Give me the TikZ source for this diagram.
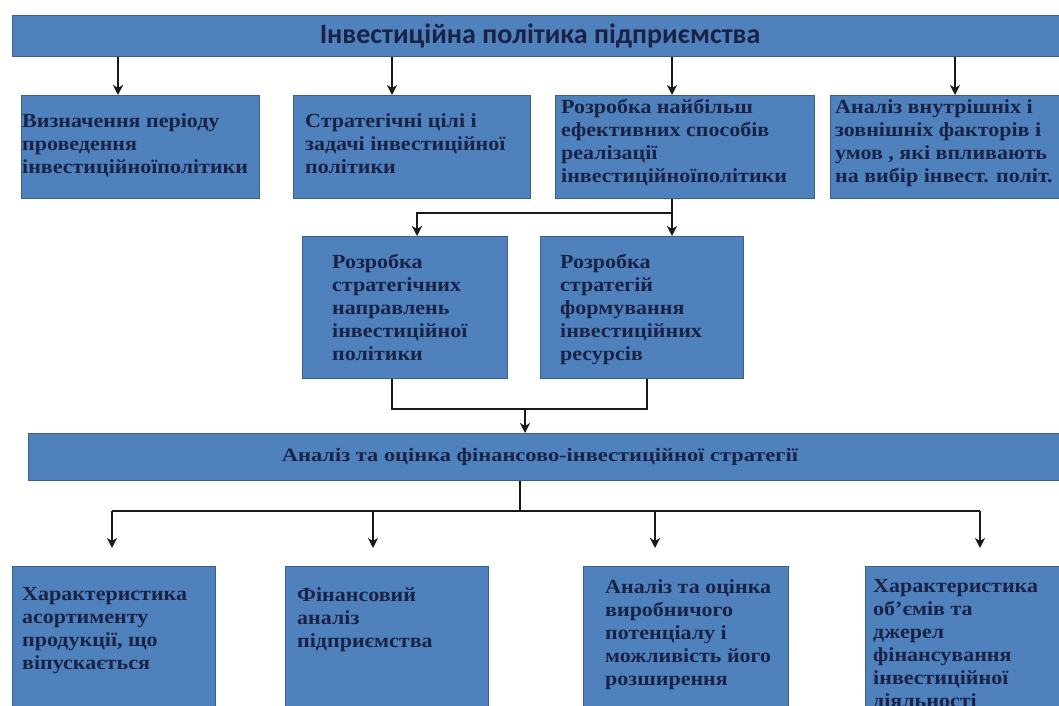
\documentclass[tikz,border=0pt]{standalone}
\usepackage{fontspec}
\usetikzlibrary{arrows.meta}
\newfontfamily\boxfont{Liberation Serif}[FakeStretch=1.1]
\newfontfamily\barfont{Liberation Serif}[FakeStretch=1.18]
\newfontfamily\titlefont{Carlito}
\definecolor{boxblue}{HTML}{4F81BD}
\definecolor{boxline}{HTML}{3A5F8D}
\definecolor{textnavy}{HTML}{1A2346}
\begin{document}
\begin{tikzpicture}[
    x=1pt, y=-1pt,
    blockbox/.style={rectangle, draw=boxline, fill=boxblue, line width=1pt, anchor=north west, inner sep=0pt},
    txt/.style={anchor=north west, align=left, inner sep=0pt, text=textnavy,
        font=\boxfont\bfseries\fontsize{20}{23}\selectfont},
    line/.style={line width=1.8pt, black!90},
    arrow/.style={-{Stealth[length=10pt, width=10pt, inset=3pt]}, line width=1.8pt, black!90}
]
    \useasboundingbox (0,0) rectangle (1059,706);
    \clip (0,0) rectangle (1059,706);

    % Bars
    \node[blockbox, minimum width=1060pt, minimum height=41pt] (bar0) at (12,15) {};
    \node[blockbox, minimum width=1040pt, minimum height=47pt] (bar1) at (28,433) {};
    \node[text=textnavy, font=\titlefont\bfseries\fontsize{28}{32}\selectfont] (t0) at (540,36) {Інвестиційна політика підприємства};
    \node[text=textnavy, font=\barfont\bfseries\fontsize{19}{22}\selectfont] (tbar) at (540,457) {Аналіз та оцінка фінансово-інвестиційної стратегії};

    % Boxes
    \node[blockbox, minimum width=238pt, minimum height=103pt] (b1) at (21,95) {};
    \node[blockbox, minimum width=237pt, minimum height=103pt] (b2) at (293,95) {};
    \node[blockbox, minimum width=259pt, minimum height=103pt] (b3) at (555,95) {};
    \node[blockbox, minimum width=240pt, minimum height=103pt] (b4) at (830,95) {};
    \node[blockbox, minimum width=205pt, minimum height=142pt] (b5) at (302,236) {};
    \node[blockbox, minimum width=203pt, minimum height=142pt] (b6) at (540,236) {};
    \node[blockbox, minimum width=203pt, minimum height=160pt] (b7) at (12,566) {};
    \node[blockbox, minimum width=203pt, minimum height=160pt] (b8) at (285,566) {};
    \node[blockbox, minimum width=205pt, minimum height=160pt] (b9) at (583,566) {};
    \node[blockbox, minimum width=220pt, minimum height=160pt] (b10) at (865,566) {};

    % Texts
    \node[txt] (t1) at (22,113) {Визначення періоду\\проведення\\інвестиційноїполітики};
    \node[txt] (t2) at (305,113) {Стратегічні цілі і\\задачі інвестиційної\\політики};
    \node[txt] (t3) at (561,99) {Розробка найбільш\\ефективних способів\\реалізації\\інвестиційноїполітики};
    \node[txt] (t4) at (835,99) {Аналіз внутрішніх і\\зовнішніх факторів і\\умов , які впливають\\на вибір інвест. політ.};
    \node[txt] (t5) at (332,254) {Розробка\\стратегічних\\направлень\\інвестиційної\\політики};
    \node[txt] (t6) at (560,254) {Розробка\\стратегій\\формування\\інвестиційних\\ресурсів};
    \node[txt] (t7) at (22,587) {Характеристика\\асортименту\\продукції, що\\віпускається};
    \node[txt] (t8) at (297,587) {Фінансовий\\аналіз\\підприємства};
    \node[txt] (t9) at (605,579) {Аналіз та оцінка\\виробничого\\потенціалу і\\можливість його\\розширення};
    \node[txt] (t10) at (873,579) {Характеристика\\об’ємів та\\джерел\\фінансування\\інвестиційної\\діяльності};

    % Branch points
    \coordinate (a1) at (118,0);
    \coordinate (a2) at (392,0);
    \coordinate (a3) at (672,0);
    \coordinate (a4) at (955,0);
    \coordinate (s1) at (672,213);
    \coordinate (s2) at (417,213);
    \coordinate (j1) at (392,409);
    \coordinate (j2) at (647,409);
    \coordinate (j3) at (525,409);
    \coordinate (k0) at (520,511);
    \coordinate (k1) at (112,511);
    \coordinate (k2) at (373,511);
    \coordinate (k3) at (655,511);
    \coordinate (k4) at (980,511);

    % Edges
    \draw[arrow] (bar0.south -| a1) -- (b1.north -| a1);
    \draw[arrow] (bar0.south -| a2) -- (b2.north -| a2);
    \draw[arrow] (bar0.south -| a3) -- (b3.north -| a3);
    \draw[arrow] (bar0.south -| a4) -- (b4.north -| a4);
    \draw[arrow] (b3.south -| s1) -- (b6.north -| s1);
    \draw[arrow] (s1) -- (s2) -- (b5.north -| s2);
    \draw[line] (b5.south -| j1) -- (j1) -- (j2) -- (b6.south -| j2);
    \draw[arrow] (j3) -- (bar1.north -| j3);
    \draw[line] (bar1.south -| k0) -- (k0);
    \draw[line] (k1) -- (k4);
    \draw[arrow] (k1) -- ([yshift=18pt]b7.north -| k1);
    \draw[arrow] (k2) -- ([yshift=18pt]b8.north -| k2);
    \draw[arrow] (k3) -- ([yshift=18pt]b9.north -| k3);
    \draw[arrow] (k4) -- ([yshift=18pt]b10.north -| k4);
\end{tikzpicture}
\end{document}
